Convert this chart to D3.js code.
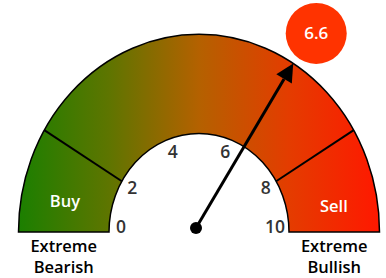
<!DOCTYPE html>
<html><head><meta charset="utf-8">
<script src="https://cdn.jsdelivr.net/npm/d3@7"></script>
<style>html,body{margin:0;padding:0;background:#fff;}svg{display:block;}text{font-family:"Open Sans",sans-serif;}</style>
</head><body>
<script>
// ---- data ----
const gaugeDomain = [0, 2, 8, 10];            // value breakpoints
const gaugeAngles = [0, 31, 149, 180];        // sweep (deg from left)
const tickValues = [0, 2, 4, 6, 8, 10];
const tickLabels = ["0", "2", "4", "6", "8", "10"];
const zoneDividers = [2, 8];
const zoneNames = ["Buy", "Sell"];
const zoneValues = [0.76, 9.35];
const endLabels = [["Extreme", "Bearish"], ["Extreme", "Bullish"]];
const endValues = [0, 10];
const currentValue = 6.6;
const gradientStops = [
  {offset: 0, color: "#1b7f00"},
  {offset: 0.25, color: "#5e7500"},
  {offset: 0.5, color: "#b46100"},
  {offset: 0.75, color: "#e43c00"},
  {offset: 1, color: "#ff1800"}
];

// ---- layout ----
const W = 386, H = 278;
const cx = 199, cy = 232;
const rOuter = 180.5, rInner = 90, yStretch = 1.095;

const angleDeg = d3.scaleLinear().domain(gaugeDomain).range(gaugeAngles);
const pt = (v, r) => {
  const a = angleDeg(v) * Math.PI / 180;
  return [cx - r * Math.cos(a), cy - r * yStretch * Math.sin(a)];
};

const svg = d3.select("body").append("svg").attr("width", W).attr("height", H);
const defs = svg.append("defs");
const grad = defs.append("linearGradient").attr("id", "g")
  .attr("gradientUnits", "userSpaceOnUse")
  .attr("x1", -rOuter).attr("x2", rOuter).attr("y1", 0).attr("y2", 0);
grad.selectAll("stop").data(gradientStops).join("stop")
  .attr("offset", d => d.offset).attr("stop-color", d => d.color);

// band
const arc = d3.arc().innerRadius(rInner).outerRadius(rOuter)
  .startAngle(-Math.PI / 2).endAngle(Math.PI / 2);
svg.append("path")
  .attr("d", arc())
  .attr("transform", `translate(${cx},${cy}) scale(1,${yStretch})`)
  .attr("fill", "url(#g)")
  .attr("stroke", "#000").attr("stroke-width", 1.5)
  .attr("vector-effect", "non-scaling-stroke");

// dividers
svg.selectAll("line.div").data(zoneDividers).join("line").attr("class", "div")
  .attr("x1", d => pt(d, rInner)[0]).attr("y1", d => pt(d, rInner)[1])
  .attr("x2", d => pt(d, rOuter)[0]).attr("y2", d => pt(d, rOuter)[1])
  .attr("stroke", "#000").attr("stroke-width", 2);

// zone names
const rZone = 137;
svg.selectAll("text.zone").data(zoneNames).join("text").attr("class", "zone")
  .attr("x", (d, i) => pt(zoneValues[i], rZone)[0])
  .attr("y", (d, i) => pt(zoneValues[i], rZone)[1])
  .attr("text-anchor", "middle").attr("dy", "0.35em")
  .attr("fill", "#fff").attr("font-size", 16.5).attr("font-weight", 600).text(d => d);

// tick labels
svg.selectAll("text.tick").data(tickValues).join("text").attr("class", "tick")
  .attr("x", d => pt(d, 78)[0] + (d === 10 ? -2 : 0))
  .attr("y", d => pt(d, 78)[1] - (d === 0 || d === 10 ? 5 : 0))
  .attr("text-anchor", "middle").attr("dy", "0.35em")
  .attr("fill", "#333").attr("font-size", 17.5).attr("font-weight", 600)
  .text((d, i) => tickLabels[i]);

// end labels
endLabels.forEach((lines, i) => {
  const x = pt(endValues[i], (rInner + rOuter) / 2)[0];
  const t = svg.append("text").attr("text-anchor", "middle").attr("font-size", 16.5)
    .attr("font-weight", 600).attr("fill", "#000");
  lines.forEach((s, j) => t.append("tspan").attr("x", x).attr("y", 252 + j * 21).text(s));
});

// needle
const pivot = [cx - 3, cy - 4];
const tip = pt(currentValue, rOuter);
const ang = Math.atan2(tip[1] - pivot[1], tip[0] - pivot[0]);
const headLen = 18, headHalf = 9;
const base = [tip[0] - headLen * Math.cos(ang), tip[1] - headLen * Math.sin(ang)];
svg.append("line")
  .attr("x1", pivot[0]).attr("y1", pivot[1])
  .attr("x2", base[0]).attr("y2", base[1])
  .attr("stroke", "#000").attr("stroke-width", 3);
const nx = -Math.sin(ang), ny = Math.cos(ang);
svg.append("path")
  .attr("d", d3.line()([tip, [base[0] + nx * headHalf, base[1] + ny * headHalf], [base[0] - nx * headHalf, base[1] - ny * headHalf]]) + "Z")
  .attr("fill", "#000");
svg.append("circle").attr("cx", pivot[0]).attr("cy", pivot[1]).attr("r", 6).attr("fill", "#000");

// value bubble
const bub = [tip[0] + 23, tip[1] - 30];
svg.append("circle").attr("cx", bub[0]).attr("cy", bub[1]).attr("r", 30.5).attr("fill", "#ff3300");
svg.append("text").attr("x", bub[0]).attr("y", bub[1]).attr("dy", "0.35em")
  .attr("text-anchor", "middle").attr("fill", "#fff").attr("font-size", 17).attr("font-weight", 600)
  .text(d3.format(".1f")(currentValue));
</script>
</body></html>
